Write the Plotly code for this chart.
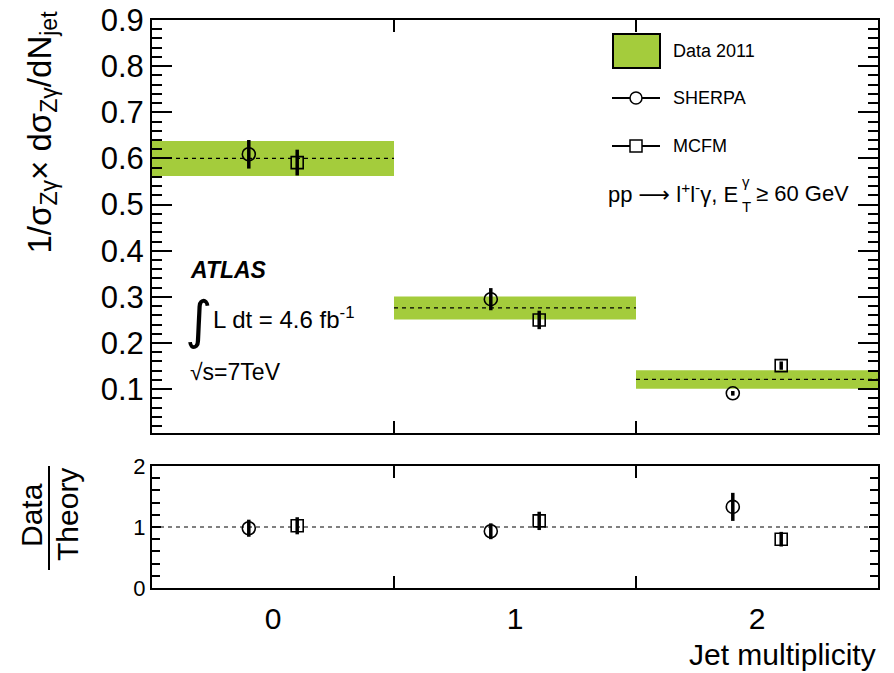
import plotly.graph_objects as go

# ---------------- data ----------------
bins = [0, 1, 2]
bin_labels = ["0", "1", "2"]
data_xsec = [0.600, 0.276, 0.121]
data_err = [0.038, 0.025, 0.020]
sherpa_xsec = [0.609, 0.295, 0.091]
sherpa_err = [0.031, 0.024, 0.005]
mcfm_xsec = [0.591, 0.250, 0.151]
mcfm_err = [0.028, 0.020, 0.009]
ratio_sherpa = [0.98, 0.93, 1.33]
ratio_sherpa_err = [0.14, 0.13, 0.23]
ratio_mcfm = [1.02, 1.10, 0.80]
ratio_mcfm_err = [0.14, 0.15, 0.12]

GREEN = "#a4cc3c"
FONT = "Liberation Sans, Arial, Helvetica, sans-serif"
W, H = 894, 673
ML, MR, MT, MB = 152, 16, 20, 85
PW, PH = W - ML - MR, H - MT - MB
OFF = 0.1  # horizontal offset of theory points within a bin


def px(xp):
    return (xp - ML) / PW


def py(yp):
    return (H - MB - yp) / PH


fig = go.Figure()

# data band
fig.add_trace(go.Bar(
    x=bins, y=[2 * e for e in data_err],
    base=[v - e for v, e in zip(data_xsec, data_err)],
    width=1.0, marker=dict(color=GREEN, line=dict(width=0)),
    xaxis="x", yaxis="y", hoverinfo="skip", showlegend=False))

# data central value dashed lines
dx, dy = [], []
for b, v in zip(bins, data_xsec):
    dx += [b - 0.5, b + 0.5, None]
    dy += [v, v, None]
fig.add_trace(go.Scatter(x=dx, y=dy, mode="lines",
                         line=dict(color="black", width=1.3, dash="4px,4px"),
                         xaxis="x", yaxis="y", showlegend=False, hoverinfo="skip"))

err_style = dict(type="data", color="black", thickness=3.5, width=0)
circ = dict(symbol="circle-open", size=13, color="black", line=dict(width=1.6, color="black"))
sq = dict(symbol="square-open", size=12, color="black", line=dict(width=1.6, color="black"))

fig.add_trace(go.Scatter(
    x=[b - OFF for b in bins], y=sherpa_xsec, mode="markers",
    error_y=dict(array=sherpa_err, **err_style), marker=circ,
    xaxis="x", yaxis="y", showlegend=False))
fig.add_trace(go.Scatter(
    x=[b + OFF for b in bins], y=mcfm_xsec, mode="markers",
    error_y=dict(array=mcfm_err, **err_style), marker=sq,
    xaxis="x", yaxis="y", showlegend=False))

# ratio panel
fig.add_trace(go.Scatter(x=[bins[0] - 0.5, bins[-1] + 0.5], y=[1, 1], mode="lines",
                         line=dict(color="black", width=1, dash="4px,4px"),
                         xaxis="x2", yaxis="y2", showlegend=False, hoverinfo="skip"))
fig.add_trace(go.Scatter(
    x=[b - OFF for b in bins], y=ratio_sherpa, mode="markers",
    error_y=dict(array=ratio_sherpa_err, **err_style), marker=circ,
    xaxis="x2", yaxis="y2", showlegend=False))
fig.add_trace(go.Scatter(
    x=[b + OFF for b in bins], y=ratio_mcfm, mode="markers",
    error_y=dict(array=ratio_mcfm_err, **err_style), marker=sq,
    xaxis="x2", yaxis="y2", showlegend=False))

top_lo = py(433)
bot_hi = py(466)

axis_common = dict(showline=True, linecolor="black", linewidth=2, mirror="ticks",
                   showgrid=False, zeroline=False, ticks="inside", tickcolor="black",
                   automargin=False, ticklabeloverflow="allow")

xr = [bins[0] - 0.5, bins[-1] + 0.5]
fig.update_layout(
    width=W, height=H, margin=dict(l=ML, r=MR, t=MT, b=MB, autoexpand=False),
    paper_bgcolor="white", plot_bgcolor="white",
    font=dict(family=FONT, color="black"),
    xaxis=dict(domain=[0, 1], anchor="y", range=xr, tickvals=bins, ticktext=bin_labels,
               showticklabels=False, ticklen=0, tickwidth=1.5,
               minor=dict(tickmode="array", tickvals=[0.5, 1.5], ticklen=12, tickwidth=1.5,
                          ticks="inside", tickcolor="black"),
               **axis_common),
    yaxis=dict(domain=[top_lo, 1], anchor="x", range=[0.005, 0.9], tick0=0, dtick=0.1,
               tickformat=".1f", ticklen=20, tickwidth=1.5,
               tickfont=dict(size=31),
               minor=dict(dtick=0.02, ticklen=10, tickwidth=1.5, ticks="inside", tickcolor="black"),
               **axis_common),
    xaxis2=dict(domain=[0, 1], anchor="y2", range=xr, matches="x", tickvals=bins, ticktext=bin_labels,
                ticklen=0, tickwidth=1.5, tickfont=dict(size=30), ticklabelstandoff=3,
                minor=dict(tickmode="array", tickvals=[0.5, 1.5], ticklen=12, tickwidth=1.5,
                           ticks="inside", tickcolor="black"),
                **axis_common),
    yaxis2=dict(domain=[0, bot_hi], anchor="x2", range=[0, 2], tick0=0, dtick=1,
                ticklen=9, tickwidth=1.5, tickfont=dict(size=22),
                minor=dict(dtick=0.2, ticklen=8, tickwidth=1.5, ticks="inside", tickcolor="black"),
                **axis_common),
)

ann = []
# y-axis title (top)
ann.append(dict(text="1/σ<sub>Zγ</sub>× dσ<sub>Zγ</sub>/dN<sub>jet</sub>",
                xref="paper", yref="paper", x=px(41), y=py(9), xanchor="center", yanchor="top",
                textangle=-90, showarrow=False, font=dict(size=33)))
# Data / Theory
ann.append(dict(text="Data", xref="paper", yref="paper", x=px(31), y=py(515),
                xanchor="center", yanchor="middle", textangle=-90, showarrow=False,
                font=dict(size=30)))
ann.append(dict(text="Theory", xref="paper", yref="paper", x=px(67), y=py(515),
                xanchor="center", yanchor="middle", textangle=-90, showarrow=False,
                font=dict(size=30)))
# x title
ann.append(dict(text="Jet multiplicity", xref="paper", yref="paper", x=1.0, y=py(654),
                xanchor="right", yanchor="middle", showarrow=False, font=dict(size=30)))
# ATLAS labels
ann.append(dict(text="<b><i>ATLAS</i></b>", xref="paper", yref="paper", x=px(188), y=py(270),
                xanchor="left", yanchor="middle", showarrow=False, font=dict(size=23)))
ann.append(dict(text="∫", xref="paper", yref="paper", x=px(198), y=py(320),
                xanchor="center", yanchor="middle", showarrow=False,
                font=dict(size=52, family="DejaVu Sans")))
ann.append(dict(text="L dt = 4.6 fb<sup>-1</sup>", xref="paper", yref="paper", x=px(211), y=py(318),
                xanchor="left", yanchor="middle", showarrow=False, font=dict(size=24)))
ann.append(dict(text="√s=7TeV", xref="paper", yref="paper", x=px(188), y=py(372),
                xanchor="left", yanchor="middle", showarrow=False, font=dict(size=23)))
# process label
ann.append(dict(text="pp <span style='font-family:DejaVu Sans'>⟶</span> l<sup>+</sup>l<sup>-</sup>γ, E",
                xref="paper", yref="paper",
                x=px(740), y=py(193), xanchor="right", yanchor="middle", showarrow=False,
                font=dict(size=22)))
ann.append(dict(text="γ", xref="paper", yref="paper", x=px(740), y=py(181),
                xanchor="left", yanchor="middle", showarrow=False, font=dict(size=15)))
ann.append(dict(text="T", xref="paper", yref="paper", x=px(740), y=py(207),
                xanchor="left", yanchor="middle", showarrow=False, font=dict(size=15)))
ann.append(dict(text="≥ 60 GeV", xref="paper", yref="paper", x=px(851), y=py(193),
                xanchor="right", yanchor="middle", showarrow=False, font=dict(size=22)))
# legend texts
for label, yy in [("Data 2011", 51), ("SHERPA", 98), ("MCFM", 146)]:
    ann.append(dict(text=label, xref="paper", yref="paper", x=px(671), y=py(yy),
                    xanchor="left", yanchor="middle", showarrow=False, font=dict(size=18)))
fig.update_layout(annotations=ann)

shapes = []
# fraction bar
shapes.append(dict(type="line", xref="paper", yref="paper", x0=px(49), x1=px(49),
                   y0=py(466), y1=py(570), line=dict(color="black", width=2)))
# legend: data box
shapes.append(dict(type="line", xref="paper", yref="paper", x0=px(636), x1=px(636),
                   y0=py(21), y1=py(30), line=dict(color="black", width=2)))
shapes.append(dict(type="rect", xref="paper", yref="paper", x0=px(613), x1=px(660),
                   y0=py(68), y1=py(34), fillcolor=GREEN, line=dict(color="black", width=2)))
# legend: SHERPA
shapes.append(dict(type="line", xref="paper", yref="paper", x0=px(612), x1=px(660),
                   y0=py(98), y1=py(98), line=dict(color="black", width=2)))
shapes.append(dict(type="circle", xref="paper", yref="paper", xsizemode="pixel", ysizemode="pixel",
                   xanchor=px(636), yanchor=py(98), x0=-6, x1=6, y0=-6, y1=6,
                   fillcolor="white", line=dict(color="black", width=1.5)))
# legend: MCFM
shapes.append(dict(type="line", xref="paper", yref="paper", x0=px(612), x1=px(660),
                   y0=py(146), y1=py(146), line=dict(color="black", width=2)))
shapes.append(dict(type="rect", xref="paper", yref="paper", xsizemode="pixel", ysizemode="pixel",
                   xanchor=px(636), yanchor=py(146), x0=-6, x1=6, y0=-6, y1=6,
                   fillcolor="white", line=dict(color="black", width=1.5)))
fig.update_layout(shapes=shapes)

fig.write_html("out.html")
